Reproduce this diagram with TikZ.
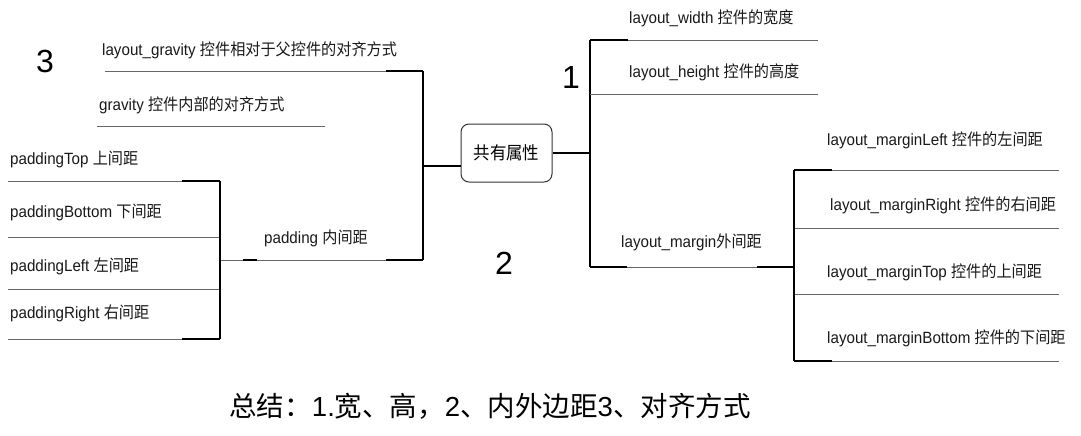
\documentclass[tikz,border=0pt]{standalone}
\usepackage{fontspec}
\setmainfont[FakeStretch=0.93]{Liberation Sans}
\newfontfamily\cjk[FakeStretch=0.93]{Noto Sans CJK SC}
\newfontfamily\cjkcap{Noto Sans CJK SC}
\newfontfamily\latcap{Liberation Sans}
\tikzset{
	thinline/.style={draw=black!60, line width=0.9pt},
	thickline/.style={draw=black, line width=2.2pt},
	stemline/.style={draw=black, line width=1.4pt},
	lbl/.style={anchor=west, inner sep=0pt, text=black!90, font=\fontsize{16.3}{19}\selectfont},
}
\begin{document}
\begin{tikzpicture}[x=1pt,y=-1pt]
		\newcommand{\myfontnum}[1]{
			\fontsize{32}{36}\selectfont\latcap{#1}
		}\newcommand{\myfontsum}[1]{
			\fontsize{27.5}{30}\selectfont{#1}
		}%Page frame
		\useasboundingbox (0,0) rectangle (1081,436);
		%Central box
		\node [draw=black!80, line width=1pt, rounded corners=8pt, minimum width=91pt, minimum height=58pt, inner sep=0pt, font=\cjk\fontsize{17.7}{20}\selectfont] (hub) at (506.5,153) {共有属性};
		%Left stem
		\coordinate (ltop) at (423,71);
		\coordinate (lmid) at (423,166);
		\coordinate (lbot) at (423,260);
		\draw [stemline] (ltop) -- (lbot);
		\draw [stemline] (lmid) -- (lmid -| hub.west);
		%Right stem
		\coordinate (rtop) at (590,40);
		\coordinate (rmid) at (590,153);
		\coordinate (rbot) at (590,267);
		\draw [stemline] (rtop) -- (rbot);
		\draw [stemline] (hub.east) -- (rmid);
		%layout_gravity branch
		\coordinate (g0) at (105,71);
		\draw [thinline] (g0) -- (ltop);
		\draw [thickline] (ltop) -- ++(-37,0);
		\node [lbl] (gravl) at (102,50) {layout\_gravity {\cjk 控件相对于父控件的对齐方式}};
		%gravity line, not joined
		\coordinate (v0) at (97,126);
		\coordinate (v1) at (325,126);
		\draw [thinline] (v0) -- (v1);
		\node [lbl] (grav) at (99,105) {gravity {\cjk 控件内部的对齐方式}};
		%padding branch
		\coordinate (pj) at (220,260);
		\draw [thinline] (pj) -- (lbot);
		\draw [thickline] (lbot) -- ++(-37,0);
		\draw [thickline] (pj) ++(23,0) -- ++(14,0);
		\node [lbl] (pad) at (264,238) {padding {\cjk 内间距}};
		%padding children
		\foreach \y [count=\i] in {181,237,289,339} {
			\coordinate (p\i) at (8,\y);
			\coordinate (pe\i) at (220,\y);
			\draw [thinline] (p\i) -- (pe\i);
		}
		\draw [stemline] (pe1) -- (pe4);
		\draw [thickline] (pe1) -- ++(-38,0);
		\draw [thickline] (pe4) -- ++(-38,0);
		\node [lbl] (padT) at (10,159) {paddingTop {\cjk 上间距}};
		\node [lbl] (padB) at (10,212) {paddingBottom {\cjk 下间距}};
		\node [lbl] (padL) at (10,266) {paddingLeft {\cjk 左间距}};
		\node [lbl] (padR) at (10,313) {paddingRight {\cjk 右间距}};
		%layout_width and layout_height
		\coordinate (w1) at (818,40);
		\coordinate (h0) at (590,94);
		\coordinate (h1) at (818,94);
		\draw [thinline] (rtop) -- (w1);
		\draw [thinline] (h0) -- (h1);
		\draw [thickline] (rtop) -- ++(38,0);
		\node [lbl] (lw) at (629,18) {layout\_width {\cjk 控件的宽度}};
		\node [lbl] (lh) at (629,72) {layout\_height {\cjk 控件的高度}};
		%layout_margin branch
		\coordinate (mj) at (794,267);
		\draw [thinline] (rbot) -- (mj);
		\draw [thickline] (rbot) -- ++(37,0);
		\draw [thickline] (mj) -- ++(-37,0);
		\node [lbl] (lm) at (621,242) {layout\_margin{\cjk 外间距}};
		%margin children
		\foreach \y [count=\i] in {170,228,294,361} {
			\coordinate (m\i) at (794,\y);
			\coordinate (me\i) at (1059,\y);
			\draw [thinline] (m\i) -- (me\i);
		}
		\draw [stemline] (m1) -- (m4);
		\draw [thickline] (m1) -- ++(38,0);
		\draw [thickline] (m4) -- ++(38,0);
		\node [lbl] (mL) at (827,140) {layout\_marginLeft {\cjk 控件的左间距}};
		\node [lbl] (mR) at (830,205) {layout\_marginRight {\cjk 控件的右间距}};
		\node [lbl] (mT) at (827,272) {layout\_marginTop {\cjk 控件的上间距}};
		\node [lbl] (mB) at (827,338) {layout\_marginBottom {\cjk 控件的下间距}};
		%Group numbers
		\node [] (n3) at (45,61) {\myfontnum{3}};
		\node [] (n1) at (571,77) {\myfontnum{1}};
		\node [] (n2) at (504,263) {\myfontnum{2}};
		%Summary
		\node [] (summary) at (490,406) {\myfontsum{{\cjkcap 总结：}\latcap 1.{\cjkcap 宽、高，}2{\cjkcap 、内外边距}3{\cjkcap 、对齐方式}}};
		\end{tikzpicture}
\end{document}
